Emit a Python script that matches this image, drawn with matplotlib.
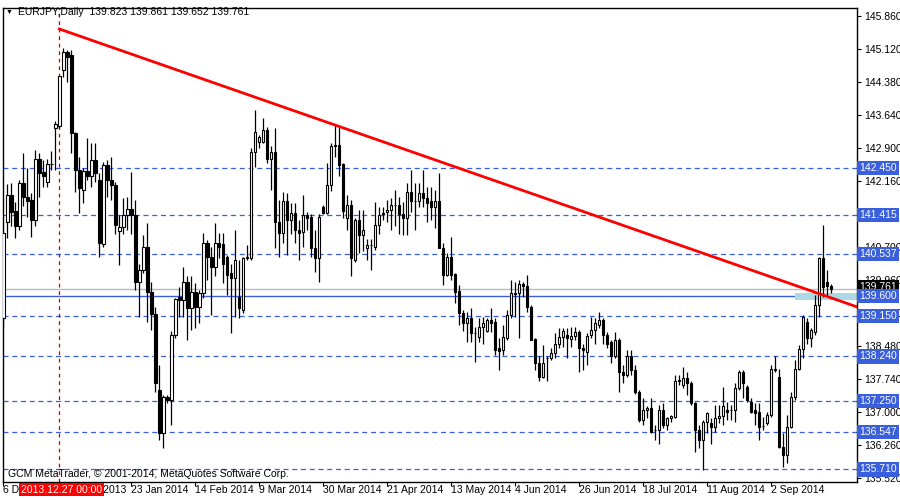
import matplotlib
matplotlib.use("Agg")
import matplotlib.pyplot as plt
import matplotlib.transforms as mtransforms
from matplotlib.patches import Rectangle

# daily OHLC, bar 0 = 6 Dec 2013
bars = [
    (139.10, 141.00, 138.91, 141.00), (141.24, 142.10, 140.90, 141.85), (141.85, 142.13, 141.15, 141.48),
    (141.50, 141.70, 140.90, 141.15), (141.15, 142.20, 141.07, 142.12), (142.12, 142.79, 141.60, 141.82),
    (141.80, 142.45, 141.37, 141.72), (141.74, 141.90, 140.92, 141.30), (141.30, 142.86, 141.15, 142.65),
    (142.65, 142.79, 141.82, 142.35), (142.38, 142.64, 142.04, 142.27), (142.15, 142.65, 142.04, 142.55),
    (142.55, 142.83, 142.41, 142.55), (143.36, 143.52, 142.41, 143.44), (143.40, 144.52, 143.36, 144.52),
    (144.65, 145.14, 144.50, 145.06), (145.06, 145.10, 144.39, 144.95), (144.99, 145.10, 142.79, 143.24),
    (143.25, 143.27, 141.93, 142.41), (142.41, 142.71, 141.46, 142.00), (141.97, 142.45, 141.67, 142.39),
    (142.39, 143.12, 142.19, 142.29), (142.29, 143.01, 142.04, 142.64), (142.64, 143.01, 142.15, 142.35),
    (142.19, 142.34, 140.47, 140.77), (140.75, 142.60, 140.70, 142.52), (142.52, 142.64, 141.82, 142.19),
    (142.19, 142.71, 141.74, 142.08), (142.08, 142.15, 140.99, 141.18), (141.05, 141.41, 140.29, 141.13),
    (141.13, 141.78, 140.99, 141.41), (141.41, 141.82, 141.07, 141.53), (141.53, 142.37, 140.99, 141.41),
    (141.41, 141.74, 139.73, 139.91), (139.91, 140.32, 139.13, 140.17), (140.17, 140.96, 140.10, 140.68),
    (140.68, 141.22, 139.02, 139.69), (139.69, 139.91, 138.83, 139.19), (139.19, 139.35, 137.45, 137.64),
    (137.49, 138.05, 136.37, 136.52), (136.52, 137.38, 136.18, 137.34), (137.34, 137.38, 137.19, 137.27),
    (137.27, 138.80, 136.71, 138.72), (138.72, 139.54, 138.65, 139.53), (139.58, 139.80, 139.13, 139.50),
    (139.50, 140.25, 139.13, 139.91), (139.91, 140.03, 138.61, 139.32), (139.32, 140.03, 138.83, 139.69),
    (139.69, 139.88, 138.87, 139.35), (139.35, 139.73, 138.98, 139.65), (139.65, 141.00, 139.54, 140.79),
    (140.79, 140.85, 139.95, 140.47), (140.47, 140.70, 139.17, 140.25), (140.25, 141.22, 140.03, 140.77),
    (140.77, 141.00, 140.44, 140.68), (140.75, 141.00, 139.88, 140.32), (140.47, 140.51, 139.62, 140.06),
    (140.10, 140.32, 138.76, 139.99), (139.99, 141.07, 139.13, 140.40), (139.58, 140.40, 139.09, 139.32),
    (139.28, 140.47, 139.21, 140.44), (140.44, 140.73, 140.40, 140.47), (140.44, 142.90, 140.40, 142.82),
    (142.82, 143.76, 142.49, 143.27), (143.05, 143.20, 142.90, 143.16), (143.05, 143.57, 143.01, 143.31),
    (143.31, 143.38, 142.56, 142.67), (142.67, 142.94, 141.97, 142.82), (142.82, 143.35, 140.66, 141.26),
    (141.26, 141.74, 140.47, 141.00), (141.00, 141.93, 140.77, 141.71), (141.71, 141.89, 140.51, 141.30),
    (141.30, 141.67, 140.99, 141.45), (141.45, 141.67, 140.77, 141.07), (141.07, 141.30, 140.40, 141.00),
    (141.03, 141.85, 140.70, 141.41), (141.41, 141.48, 141.07, 141.33), (141.37, 141.44, 140.47, 140.66),
    (140.66, 141.07, 140.14, 140.44), (140.44, 141.44, 139.91, 141.37), (141.59, 141.63, 141.44, 141.46),
    (141.46, 142.56, 141.44, 142.08), (142.08, 143.01, 141.95, 142.94), (142.94, 143.42, 142.71, 142.97),
    (142.97, 143.38, 142.27, 142.53), (142.55, 142.56, 141.33, 141.50), (141.33, 141.85, 141.07, 141.63),
    (141.63, 141.74, 140.03, 140.44), (140.40, 141.33, 140.36, 141.30), (141.30, 141.52, 140.55, 140.96),
    (140.96, 141.52, 140.59, 141.07), (140.66, 140.88, 140.40, 140.73), (140.73, 140.88, 140.17, 140.73),
    (140.70, 141.70, 140.62, 141.18), (141.18, 141.59, 140.99, 141.41), (141.44, 141.59, 141.29, 141.44),
    (141.48, 141.74, 141.26, 141.52), (141.52, 141.78, 141.07, 141.63), (141.63, 141.97, 141.15, 141.63),
    (141.63, 141.82, 140.99, 141.44), (141.44, 141.70, 140.96, 141.33), (141.33, 142.12, 140.96, 141.93),
    (141.93, 142.41, 141.48, 141.71), (141.71, 142.12, 141.07, 141.71), (141.71, 142.12, 141.59, 141.89),
    (141.89, 142.41, 141.59, 141.78), (141.78, 142.04, 141.26, 141.67), (141.71, 142.04, 141.29, 141.59),
    (141.59, 141.97, 141.11, 141.71), (141.71, 142.34, 140.66, 140.66), (140.66, 140.77, 139.84, 140.06),
    (140.06, 140.55, 140.03, 140.47), (140.47, 140.92, 139.95, 140.06), (140.08, 140.10, 139.43, 139.69),
    (139.71, 139.84, 138.94, 139.21), (139.21, 139.28, 138.80, 138.98), (138.98, 139.24, 138.57, 139.09),
    (139.09, 139.32, 138.57, 138.76), (138.76, 138.91, 138.12, 138.76), (138.68, 139.09, 138.57, 138.91),
    (138.91, 139.13, 138.53, 138.98), (138.80, 139.09, 138.79, 139.06), (139.06, 139.32, 138.79, 139.00),
    (139.02, 139.09, 138.27, 138.38), (138.42, 138.65, 137.94, 138.37), (138.38, 138.94, 138.27, 138.68),
    (138.65, 139.28, 138.61, 139.17), (139.17, 139.95, 139.09, 139.65), (139.67, 139.91, 139.13, 139.64),
    (139.65, 139.95, 138.65, 139.87), (139.86, 139.91, 139.58, 139.82), (139.82, 140.06, 139.24, 139.35),
    (139.35, 139.39, 138.61, 138.61), (138.62, 138.65, 137.94, 138.09), (138.09, 138.24, 137.68, 137.79),
    (137.79, 138.50, 137.75, 138.09), (138.20, 138.24, 137.68, 138.20), (138.20, 138.42, 138.16, 138.32),
    (138.32, 138.76, 138.20, 138.53), (138.53, 138.87, 138.42, 138.68), (138.67, 138.87, 138.46, 138.80),
    (138.72, 138.87, 138.20, 138.65), (138.62, 138.91, 138.46, 138.70), (138.70, 138.91, 138.61, 138.79),
    (138.79, 138.83, 137.90, 138.42), (138.42, 138.53, 137.94, 138.38), (138.35, 138.76, 138.05, 138.70),
    (138.72, 139.13, 138.65, 138.83), (138.83, 139.09, 138.53, 138.98), (138.95, 139.24, 138.87, 139.06),
    (139.06, 139.09, 138.53, 138.72), (138.72, 138.79, 138.42, 138.53), (138.57, 138.61, 138.09, 138.24),
    (138.24, 138.79, 138.20, 138.61), (138.61, 138.65, 137.45, 137.90), (137.90, 138.05, 137.64, 137.83),
    (137.83, 138.38, 137.79, 138.24), (138.24, 138.38, 137.83, 137.94), (137.94, 138.05, 137.41, 137.45),
    (137.45, 137.49, 136.78, 136.82), (136.82, 137.30, 136.71, 137.04), (137.04, 137.12, 136.86, 137.08),
    (137.08, 137.30, 136.52, 136.56), (136.60, 136.71, 136.37, 136.60), (136.60, 137.15, 136.29, 137.04),
    (137.04, 137.19, 136.63, 136.71), (136.71, 136.89, 136.60, 136.86), (136.86, 136.93, 136.78, 136.90),
    (136.89, 137.83, 136.86, 137.68), (137.68, 137.83, 137.60, 137.71), (137.60, 138.01, 137.53, 137.75),
    (137.75, 137.90, 137.38, 137.64), (137.64, 137.68, 137.15, 137.19), (137.19, 137.23, 136.11, 136.60),
    (136.60, 136.71, 136.18, 136.37), (136.37, 136.82, 135.70, 136.78), (136.78, 137.00, 136.52, 136.97),
    (136.74, 136.86, 136.29, 136.67), (136.67, 137.15, 136.56, 136.86), (136.86, 137.15, 136.74, 136.90),
    (136.90, 137.56, 136.71, 137.12), (137.04, 137.23, 136.82, 137.00), (137.04, 137.15, 136.82, 137.04),
    (137.04, 137.64, 136.78, 137.53), (137.53, 137.94, 137.49, 137.90), (137.90, 137.94, 137.30, 137.64),
    (137.56, 137.60, 137.23, 137.26), (137.23, 137.30, 136.97, 137.00), (137.04, 137.19, 136.71, 136.97),
    (137.00, 137.19, 136.37, 136.67), (136.68, 136.89, 136.60, 136.68), (136.74, 137.00, 136.71, 136.93),
    (136.93, 138.05, 136.89, 137.97), (137.94, 138.24, 137.90, 137.97), (137.79, 137.97, 136.18, 136.22),
    (136.22, 136.52, 135.77, 136.03), (136.03, 136.93, 135.85, 136.67), (136.67, 137.45, 136.63, 137.34),
    (137.34, 138.16, 137.26, 137.97), (137.97, 138.50, 137.94, 138.40), (138.40, 139.17, 138.20, 139.13),
    (139.02, 139.09, 138.53, 138.65), (138.65, 138.87, 138.46, 138.83), (138.79, 139.62, 138.72, 139.39),
    (139.39, 140.47, 139.13, 140.44), (140.44, 141.18, 139.58, 139.80), (139.91, 140.17, 139.62, 139.82),
    (139.823, 139.861, 139.652, 139.761),
]

date_ticks = [0, 16, 32, 48, 64, 80, 96, 112, 128, 144, 160, 176, 192]
date_labels = ["6 Dec 2013", "29 Dec 2013", "23 Jan 2014", "14 Feb 2014", "9 Mar 2014",
               "30 Mar 2014", "21 Apr 2014", "13 May 2014", "4 Jun 2014", "26 Jun 2014",
               "18 Jul 2014", "11 Aug 2014", "2 Sep 2014"]
price_ticks = [145.860, 145.120, 144.380, 143.640, 142.900, 142.160, 140.700,
               139.960, 139.220, 138.480, 137.740, 137.000, 136.260, 135.520]
levels = [142.450, 141.415, 140.537, 139.150, 138.240, 137.250, 136.547, 135.710]
support = 139.600
bid = 139.761
trend_x = [14, 213.5]
trend_y = [145.57, 139.35]
zone_x = [198, 213.5]
zone_y = [139.50, 139.66]
cursor_bar = 14

plt.rcParams["font.family"] = ["Liberation Sans", "DejaVu Sans"]
FS = 7.5
fig = plt.figure(figsize=(9, 5), dpi=100)
ax = fig.add_axes([3 / 900, 18 / 500, 854 / 900, 474 / 500])
ax.set_xlim(-0.1, 213.5)
ax.set_ylim(135.43, 146.04)

for lv in levels:
    ax.axhline(lv, color="#3a5fdc", lw=0.9, ls=(0, (4, 3)), zorder=1)
ax.axhline(bid, color="#bbbbbb", lw=1, zorder=1)
ax.axhline(support, color="#3a5fdc", lw=1, zorder=1)
ax.add_patch(Rectangle((zone_x[0], zone_y[0]), zone_x[1] - zone_x[0], zone_y[1] - zone_y[0],
                       facecolor="#add8e6", edgecolor="none", zorder=1))
ax.axvline(cursor_bar, color="#cc0000", lw=0.9, ls=(0, (3, 3)), zorder=2)

for i, (o, h, l, c) in enumerate(bars):
    ax.vlines(i, l, h, color="black", lw=0.9, zorder=3)
    lo, hi = min(o, c), max(o, c)
    ax.add_patch(Rectangle((i - 0.3, lo), 0.6, max(hi - lo, 0.005),
                           facecolor="white" if c >= o else "black",
                           edgecolor="black", lw=0.8, zorder=4))

ax.plot(trend_x, trend_y, color="#ff0000", lw=2, zorder=5)

for s in ax.spines.values():
    s.set_linewidth(1)
ax.set_xticks(date_ticks)
ax.set_xticklabels([])
ax.tick_params(axis="x", length=3, width=0.8)
ax.yaxis.tick_right()
ax.set_yticks(price_ticks)
ax.set_yticklabels([f"{p:.3f}" for p in price_ticks], fontsize=FS)
ax.tick_params(axis="y", length=3, width=0.8, pad=2)

xtr = mtransforms.blended_transform_factory(ax.transData, ax.transAxes)
for t, lab in zip(date_ticks, date_labels):
    ax.text(t, -0.006, lab, transform=xtr, fontsize=FS, ha="left", va="top")

tr = mtransforms.blended_transform_factory(ax.transAxes, ax.transData)
for lv in levels + [support]:
    ax.text(1.003, lv, f"{lv:.3f}", transform=tr, fontsize=FS, color="white", ha="left", va="center",
            bbox=dict(boxstyle="square,pad=0.2", fc="#3a5fdc", ec="none"), clip_on=False, zorder=10)
ax.text(1.003, bid + 0.04, f"{bid:.3f}", transform=tr, fontsize=FS, color="white", ha="left", va="center",
        bbox=dict(boxstyle="square,pad=0.15", fc="black", ec="none"), clip_on=False, zorder=9)

ax.text(0.021, -0.006, "2013.12.27 00:00", transform=ax.transAxes, fontsize=FS, color="white",
        ha="left", va="top", bbox=dict(boxstyle="square,pad=0.15", fc="#ff0000", ec="none"), zorder=11)

fig.text(6 / 900, 1 - 12 / 500, "\u25bc", fontsize=5, va="center")
fig.text(18 / 900, 1 - 12 / 500, "EURJPY,Daily  139.823 139.861 139.652 139.761", fontsize=FS, va="center")
fig.text(8 / 900, 1 - 474 / 500, "GCM MetaTrader, \u00a9 2001-2014, MetaQuotes Software Corp.",
         fontsize=FS, va="center")

fig.savefig("out.png", dpi=100)
